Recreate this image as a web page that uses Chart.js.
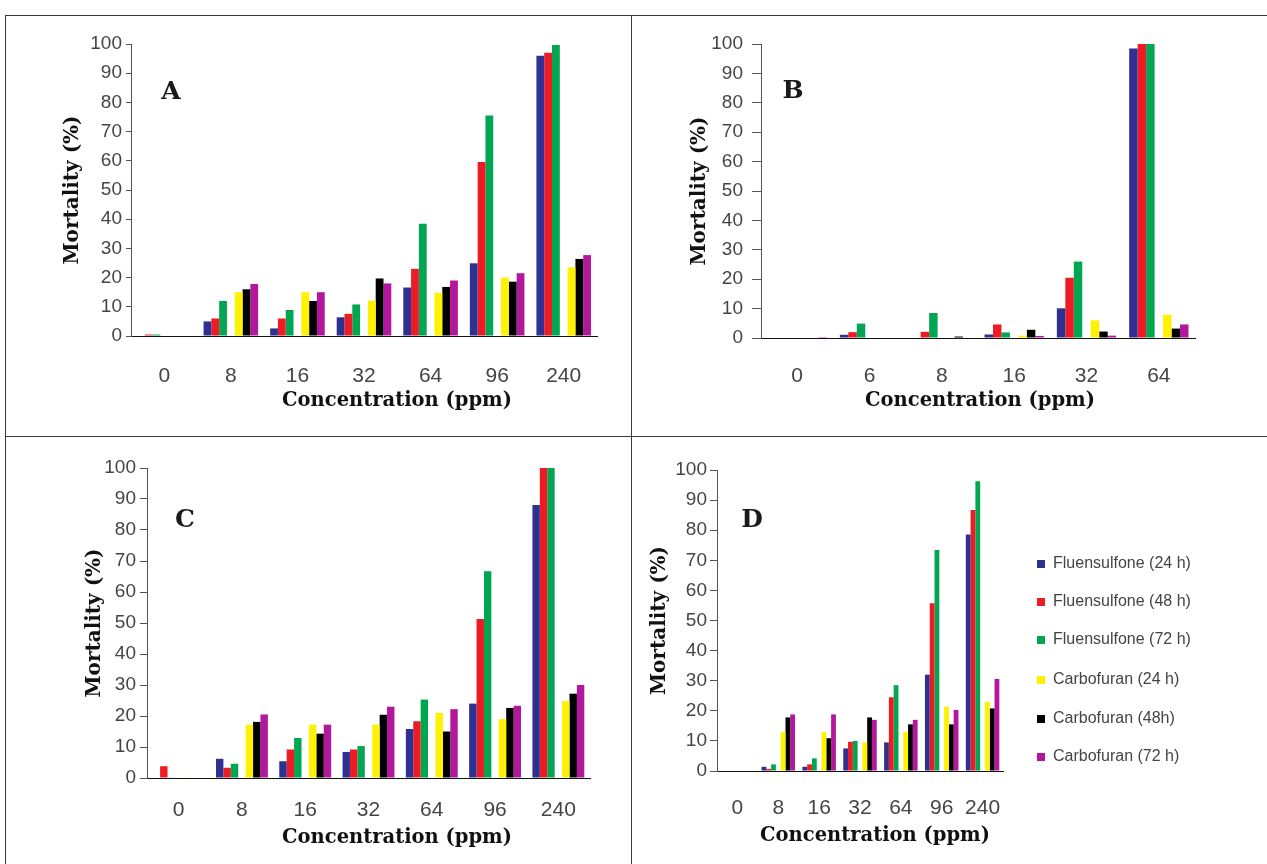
<!DOCTYPE html>
<html>
<head>
<meta charset="utf-8">
<script src="https://cdn.jsdelivr.net/npm/chart.js@4.4.1/dist/chart.umd.min.js"></script>
<style>
html,body{margin:0;padding:0;background:#fff;}
body{width:1267px;height:864px;position:relative;overflow:hidden;font-family:'Liberation Sans',Arial,sans-serif;}
canvas{position:absolute;}
.line{position:absolute;background:#3a3a3a;}
.xt{position:absolute;width:400px;text-align:center;font:bold 19.5px 'DejaVu Serif',serif;color:#111;line-height:22px;white-space:nowrap;}
.lt{position:absolute;font:bold 25px 'DejaVu Serif',serif;color:#1a1a1a;line-height:1;transform:translate(-50%,-50%);}
.lg{position:absolute;font:16px 'Liberation Sans',Arial,sans-serif;color:#444;line-height:20px;height:20px;white-space:nowrap;}
.lg span{display:inline-block;width:8px;height:8px;margin-right:8px;vertical-align:0px;}
</style>
</head>
<body>
<div class="line" style="left:5px;top:15px;width:1262px;height:1px;"></div>
<div class="line" style="left:5px;top:15px;width:1px;height:849px;"></div>
<div class="line" style="left:631px;top:15px;width:1px;height:849px;"></div>
<div class="line" style="left:5px;top:436px;width:1262px;height:1px;"></div>

<canvas id="cA"></canvas>
<canvas id="cB"></canvas>
<canvas id="cC"></canvas>
<canvas id="cD"></canvas>

<div id="texts"></div>

<script>
// ---------- DATA ----------
const seriesNames = ['Fluensulfone (24 h)', 'Fluensulfone (48 h)', 'Fluensulfone (72 h)', 'Carbofuran (24 h)', 'Carbofuran (48h)', 'Carbofuran (72 h)'];
const seriesColors = ['#2e3192', '#ed1c24', '#00a651', '#fff200', '#000000', '#b3179b'];
const yTicks = [0, 10, 20, 30, 40, 50, 60, 70, 80, 90, 100];
const xTitle = 'Concentration (ppm)';
const yTitle = 'Mortality (%)';

// Panel A
const concA = ['0', '8', '16', '32', '64', '96', '240'];
const aFlu24 = [0, 5, 2.6, 6.4, 16.6, 24.9, 96];
const aFlu48 = [0.5, 6, 6, 7.6, 23, 59.6, 97];
const aFlu72 = [0.5, 12, 8.9, 10.8, 38.4, 75.5, 99.7];
const aCarb24 = [0, 15, 15, 12.1, 14.8, 20, 23.5];
const aCarb48 = [0, 16, 12, 19.7, 16.8, 18.6, 26.4];
const aCarb72 = [0, 17.8, 15, 18, 19, 21.5, 27.7];

// Panel B
const concB = ['0', '6', '8', '16', '32', '64'];
const bFlu24 = [0, 1.1, 0, 1.2, 10.1, 98.5];
const bFlu48 = [0, 2, 2.1, 4.6, 20.5, 100];
const bFlu72 = [0, 4.9, 8.5, 1.9, 26, 100];
const bCarb24 = [0, 0, 0, 0.8, 6, 7.9];
const bCarb48 = [0, 0, 0.5, 2.8, 2.2, 3.2];
const bCarb72 = [0.3, 0, 0, 0.7, 0.8, 4.6];

// Panel C
const concC = ['0', '8', '16', '32', '64', '96', '240'];
const cFlu24 = [0, 6.2, 5.4, 8.4, 15.8, 24, 88.1];
const cFlu48 = [3.8, 3.3, 9.2, 9.2, 18.3, 51.3, 100];
const cFlu72 = [0.2, 4.6, 12.9, 10.3, 25.3, 66.7, 100];
const cCarb24 = [0.2, 17.2, 17.2, 17.2, 21, 19, 24.8];
const cCarb48 = [0, 18.1, 14.3, 20.4, 15, 22.6, 27.2];
const cCarb72 = [0, 20.5, 17.2, 23, 22.2, 23.3, 30];

// Panel D
const concD = ['0', '8', '16', '32', '64', '96', '240'];
const dFlu24 = [0, 1.4, 1.4, 7.5, 9.5, 32, 78.6];
const dFlu48 = [0, 0.7, 2.2, 9.7, 24.5, 55.7, 86.7];
const dFlu72 = [0, 2.2, 4.2, 10, 28.5, 73.4, 96.3];
const dCarb24 = [0, 13, 13, 9.5, 13, 21.4, 23];
const dCarb48 = [0, 17.8, 10.9, 17.8, 15.5, 15.5, 20.8];
const dCarb72 = [0, 18.8, 18.8, 17, 17, 20.3, 30.6];

// ---------- RENDER ----------
Chart.defaults.font.family = "'Liberation Sans', Arial, sans-serif";

function makeDatasets(series) {
  const ds = [];
  series.forEach((vals, i) => {
    if (i === 3) {
      // empty spacer slot between the two product groups
      ds.push({ label: '', data: vals.map(() => null), backgroundColor: 'rgba(0,0,0,0)' });
    }
    ds.push({ label: seriesNames[i], data: vals, backgroundColor: seriesColors[i], borderWidth: 0 });
  });
  return ds;
}

function panel(cfg) {
  const cv = document.getElementById(cfg.id);
  const r = cfg.rect, a = cfg.area;
  cv.width = r.w; cv.height = r.h;
  cv.style.left = r.x + 'px'; cv.style.top = r.y + 'px';
  cv.style.width = r.w + 'px'; cv.style.height = r.h + 'px';
  const titleSize = 20, titleLH = titleSize * 1.2;
  const padLeft = cfg.yTitleX - r.x - titleLH / 2;
  const yWidth = a.l - r.x - padLeft;
  const xH = 60;
  const padBottom = (r.y + r.h) - a.b - xH;
  const xTickSize = 21, xTickLH = xTickSize * 1.2;
  new Chart(cv, {
    type: 'bar',
    data: { labels: cfg.labels, datasets: makeDatasets(cfg.series) },
    options: {
      responsive: false, animation: false, devicePixelRatio: 1,
      layout: { padding: { left: padLeft, top: a.t - r.y, right: r.x + r.w - a.r, bottom: padBottom } },
      plugins: { legend: { display: false }, tooltip: { enabled: false } },
      datasets: { bar: { barPercentage: 1, categoryPercentage: 0.82 } },
      scales: {
        x: {
          grid: { display: false },
          border: { display: true, color: '#111', width: 1 },
          ticks: { font: { size: xTickSize }, color: '#454545', padding: cfg.xLabelY - a.b - xTickLH / 2, maxRotation: 0, autoSkip: false },
          afterFit(s) { s.height = xH; }
        },
        y: {
          min: 0, max: 100,
          afterBuildTicks(s) { s.ticks = yTicks.map(v => ({ value: v })); },
          ticks: { font: { size: 19 }, color: '#454545', padding: cfg.tickPad },
          grid: { display: true, drawOnChartArea: false, drawTicks: true, tickLength: cfg.tickLen, color: '#555' },
          border: { display: true, color: '#555', width: 1 },
          title: { display: true, text: yTitle, font: { family: "'DejaVu Serif', serif", weight: 'bold', size: titleSize }, color: '#111', padding: 0 },
          afterFit(s) { s.width = yWidth; }
        }
      }
    }
  });
}

panel({ id: 'cA', rect: { x: 6, y: 16, w: 625, h: 419 }, area: { l: 131, r: 597, t: 44, b: 336 },
  yTitleX: 73, xLabelY: 368, tickLen: 5, tickPad: 4, labels: concA,
  series: [aFlu24, aFlu48, aFlu72, aCarb24, aCarb48, aCarb72] });
panel({ id: 'cB', rect: { x: 633, y: 16, w: 634, h: 419 }, area: { l: 761, r: 1195, t: 44, b: 338 },
  yTitleX: 700, xLabelY: 368, tickLen: 9, tickPad: 9, labels: concB,
  series: [bFlu24, bFlu48, bFlu72, bCarb24, bCarb48, bCarb72] });
panel({ id: 'cC', rect: { x: 6, y: 437, w: 625, h: 427 }, area: { l: 147, r: 590, t: 468, b: 778 },
  yTitleX: 95, xLabelY: 802, tickLen: 7, tickPad: 4, labels: concC,
  series: [cFlu24, cFlu48, cFlu72, cCarb24, cCarb48, cCarb72] });
panel({ id: 'cD', rect: { x: 633, y: 437, w: 634, h: 427 }, area: { l: 717, r: 1003, t: 470, b: 771 },
  yTitleX: 660, xLabelY: 800, tickLen: 7, tickPad: 3, labels: concD,
  series: [dFlu24, dFlu48, dFlu72, dCarb24, dCarb48, dCarb72] });

// ---------- TEXT (titles, panel letters, legend) ----------
const texts = document.getElementById('texts');
function add(cls, html, style) {
  const d = document.createElement('div');
  d.className = cls; d.innerHTML = html; d.setAttribute('style', style);
  texts.appendChild(d);
}
[[397, 400], [980, 400], [397, 837], [875, 835]].forEach(([cx, cy]) => {
  add('xt', xTitle, `left:${cx - 200}px;top:${cy - 11}px;`);
});
const letters = [['A', 171, 90], ['B', 793, 89], ['C', 185, 518], ['D', 752, 518]];
letters.forEach(([t, x, y]) => add('lt', t, `left:${x}px;top:${y}px;`));
const legendY = [563, 601, 639, 679, 718, 756];
seriesNames.forEach((n, i) => {
  add('lg', `<span style="background:${seriesColors[i]}"></span>${n}`, `left:1037px;top:${legendY[i] - 10}px;`);
});
</script>
</body>
</html>
